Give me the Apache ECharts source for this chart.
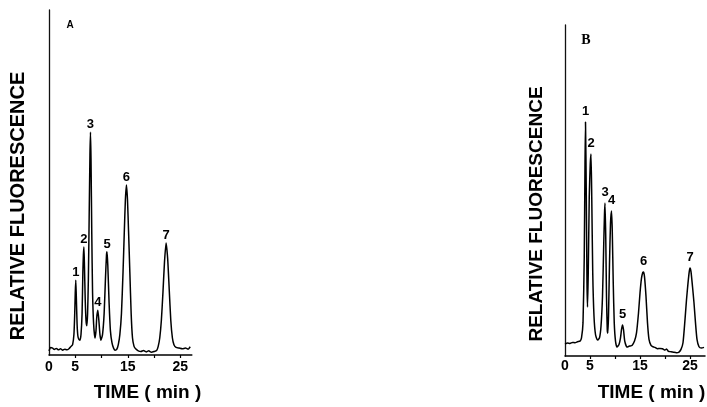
<!DOCTYPE html>
<html>
<head>
<meta charset="utf-8">
<script src="https://cdn.jsdelivr.net/npm/echarts@6/dist/echarts.min.js"></script>
<style>html,body{margin:0;padding:0;background:#fff}#c{width:707px;height:407px}</style>
</head>
<body>
<div id="c"></div>
<script>
// Panel A chromatogram: [time (min), relative fluorescence (0-100)]
var traceA = [
  [0,1.2],[0.3,2.2],[0.7,2.0],[1.0,1.6],[1.4,1.9],[1.8,1.5],[2.2,1.8],[2.6,1.4],[3.0,1.7],[3.4,1.5],[3.8,1.8],[4.2,2.5],
  [4.5,3],[4.75,6],[4.9,12],[5.0,18],[5.1,21.7],[5.2,17],[5.35,9],[5.5,5.5],[5.7,4.5],[5.9,4.3],
  [6.1,6],[6.3,12],[6.45,24],[6.55,29],[6.65,31.3],[6.75,26],[6.9,16],[7.05,10],[7.2,8.5],
  [7.35,12],[7.5,22],[7.65,40],[7.8,58],[7.9,64.6],[8.0,57],[8.15,35],[8.3,18],[8.5,9],[8.75,4.9],
  [8.95,7],[9.1,11],[9.3,13],[9.5,10],[9.7,6],[9.9,4.3],
  [10.2,6],[10.5,12],[10.75,22],[10.95,29],[11.05,29.9],[11.2,26],[11.45,15],[11.7,7],[12.0,3.5],[12.3,2],[12.6,1.4],
  [12.9,1.6],[13.2,3],[13.5,6],[13.8,12],[14.1,24],[14.35,36],[14.55,45],[14.75,49.3],[14.95,45],[15.15,36],[15.4,24],[15.65,12],[15.9,5],[16.2,2.5],[16.5,1.8],
  [17.0,1.2],[17.5,1.0],[18.0,1.3],[18.5,0.9],[19.0,1.2],[19.5,0.8],[20.0,1.0],[20.5,1.3],
  [20.8,2.5],[21.1,5],[21.4,10],[21.7,18],[22.0,27],[22.3,32.5],[22.6,28],[22.9,19],[23.2,10],[23.5,5],[23.8,3],[24.2,2.2],
  [24.8,2.0],[25.4,1.8],[26.0,2.0],[26.5,1.7],[26.9,2.4]
];
// Panel B chromatogram
var traceB = [
  [0,3.6],[0.5,3.9],[1.0,3.8],[1.5,4.1],[2.0,4.0],[2.5,4.3],[3.0,4.5],[3.3,5.5],[3.6,10],[3.85,30],[4.0,58],[4.1,70.7],[4.25,50],[4.4,22],[4.5,14.8],
  [4.65,25],[4.85,48],[5.05,58],[5.2,61],[5.35,48],[5.55,25],[5.8,12],[6.1,6.5],[6.5,4.8],
  [6.9,5.5],[7.2,9],[7.5,18],[7.75,34],[7.9,43],[8.0,46.2],[8.15,36],[8.3,18],[8.45,8],[8.55,6.9],
  [8.7,12],[8.9,28],[9.1,40],[9.3,43.8],[9.45,38],[9.65,22],[9.85,10],[10.1,4.5],[10.4,2.7],
  [10.8,3.5],[11.1,5.5],[11.3,8],[11.5,9.4],[11.7,8],[11.95,4.5],[12.4,2.7],
  [12.9,3],[13.4,3.2],[13.9,4.5],[14.3,7],[14.7,13],[15.0,19],[15.3,23.5],[15.55,25.2],[15.7,25.4],[15.9,24],[16.2,18],[16.5,10],[16.8,5],[17.2,3.2],
  [17.6,2.8],[18.0,2.6],[18.5,2.2],[19.0,2.3],[19.5,2.2],[20.0,1.8],[20.3,2.1],[20.7,1.4],[21.2,1.3],[21.8,1.1],[22.3,1.0],[22.8,1.2],
  [23.2,2.0],[23.6,4],[24.0,11],[24.3,17],[24.6,22],[24.85,25.5],[25.0,26.6],[25.2,25.5],[25.5,21],[25.8,16],[26.1,10],[26.4,5],[26.8,2.8],[27.3,2.4],[27.8,2.6]
];
// Peak numbering
var peakNames = ['1','2','3','4','5','6','7'];
var peakTimesA = [5.1, 6.65, 7.9, 9.3, 11.05, 14.75, 22.3];
var peakHeightsA = [21.7, 31.3, 64.6, 13, 29.9, 49.3, 32.5];
var peakTimesB = [4.1, 5.2, 8.0, 9.3, 11.5, 15.7, 25.0];
var peakHeightsB = [70.7, 61, 46.2, 43.8, 9.4, 25.4, 26.6];
// Axis ticks
var tickValues = [5, 10, 15, 20, 25];
var tickLabels = [0, 5, 15, 25];

var chart = echarts.init(document.getElementById('c'), null, {renderer: 'canvas'});

function peaks(times, heights) {
  return times.map(function (t, i) { return {value: [t, heights[i]], name: peakNames[i]}; });
}
function xAxis(idx, max, margin) {
  return {
    type: 'value', gridIndex: idx, min: 0, max: max, interval: 5,
    axisLine: {show: true, lineStyle: {color: '#000', width: 1.5}},
    axisTick: {show: true, length: 3, customValues: tickValues, lineStyle: {color: '#000', width: 1.2}},
    axisLabel: {customValues: tickLabels, margin: margin, color: '#000', fontSize: 14, fontWeight: 'bold', fontFamily: 'Liberation Sans'},
    splitLine: {show: false}
  };
}
function yAxis(idx) {
  return {
    type: 'value', gridIndex: idx, min: 0, max: 100,
    axisLine: {show: true, lineStyle: {color: '#111', width: 1.3}},
    axisTick: {show: false}, axisLabel: {show: false}, splitLine: {show: false}
  };
}
function labelSeries(idx, times, heights, dist, size) {
  return {
    type: 'scatter', xAxisIndex: idx, yAxisIndex: idx, symbolSize: 0, silent: true,
    itemStyle: {opacity: 1},
    data: peaks(times, heights),
    label: {show: true, position: 'top', distance: dist, formatter: '{b}', color: '#000',
      fontSize: size, fontWeight: 'bold', fontFamily: 'Liberation Sans'}
  };
}

var option = {
  animation: false,
  backgroundColor: '#fff',
  grid: [
    {left: 49, top: 10, width: 142.8, height: 345},
    {left: 565, top: 25, width: 140, height: 331}
  ],
  xAxis: [xAxis(0, 27.2, 5), xAxis(1, 28, 3)],
  yAxis: [yAxis(0), yAxis(1)],
  series: [
    {type: 'line', xAxisIndex: 0, yAxisIndex: 0, data: traceA, showSymbol: false, smooth: 0.2,
      lineStyle: {color: '#000', width: 1.5}},
    {type: 'line', xAxisIndex: 1, yAxisIndex: 1, data: traceB, showSymbol: false, smooth: 0.2,
      lineStyle: {color: '#000', width: 1.5}},
    labelSeries(0, peakTimesA, peakHeightsA, 1, 13),
    labelSeries(1, peakTimesB, peakHeightsB, 4, 13)
  ],
  graphic: [
    {type: 'text', x: 18.5, y: 206, rotation: Math.PI / 2,
      style: {text: 'RELATIVE FLUORESCENCE', fill: '#000', font: 'bold 20px "Liberation Sans"', align: 'center', verticalAlign: 'middle'}},
    {type: 'text', x: 537, y: 214, rotation: Math.PI / 2,
      style: {text: 'RELATIVE FLUORESCENCE', fill: '#000', font: 'bold 19px "Liberation Sans"', align: 'center', verticalAlign: 'middle'}},
    {type: 'text', x: 147.5, y: 393,
      style: {text: 'TIME ( min )', fill: '#000', font: 'bold 19px "Liberation Sans"', align: 'center', verticalAlign: 'middle'}},
    {type: 'text', x: 651.5, y: 393,
      style: {text: 'TIME ( min )', fill: '#000', font: 'bold 19px "Liberation Sans"', align: 'center', verticalAlign: 'middle'}},
    {type: 'text', x: 70, y: 25,
      style: {text: 'A', fill: '#000', font: 'bold 10px "Liberation Sans"', align: 'center', verticalAlign: 'middle'}},
    {type: 'text', x: 586, y: 40,
      style: {text: 'B', fill: '#000', font: 'bold 14px "Liberation Serif"', align: 'center', verticalAlign: 'middle'}}
  ]
};
chart.setOption(option);
</script>
</body>
</html>
